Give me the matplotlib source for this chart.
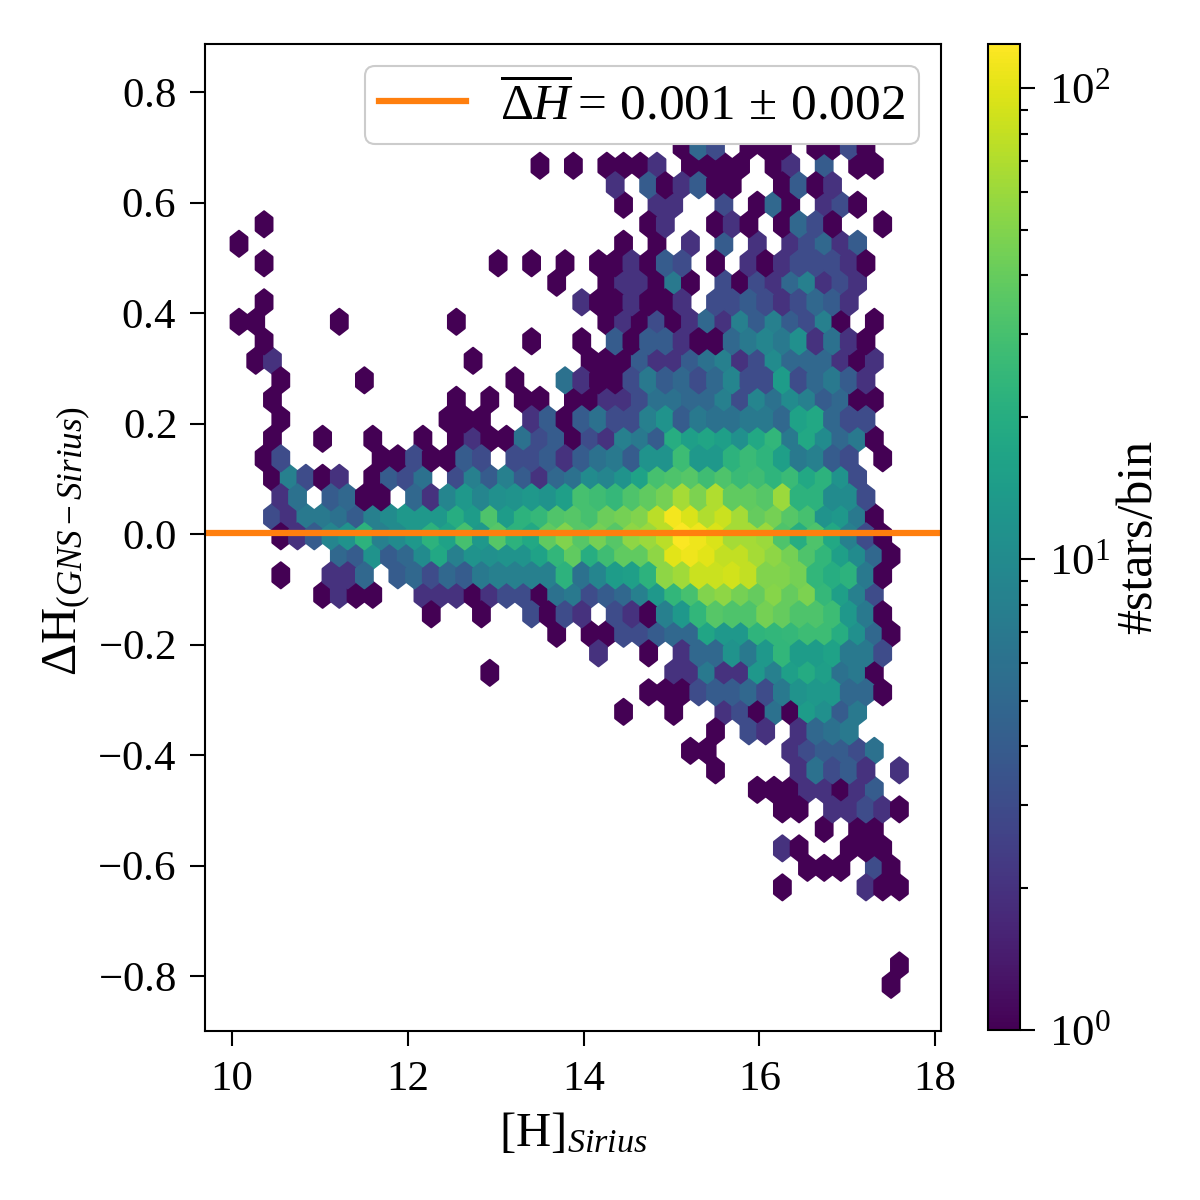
#!/usr/bin/env python
'''
Hexbin of the GNS - Sirius H band difference against Sirius magnitude
'''

import numpy as np
import matplotlib
matplotlib.use('Agg')
import matplotlib.pyplot as plt
from matplotlib.colors import LogNorm

plt.rcParams['font.family'] = ['Liberation Serif', 'DejaVu Serif']
plt.rcParams['mathtext.fontset'] = 'custom'
plt.rcParams['mathtext.rm'] = 'Liberation Serif'
plt.rcParams['mathtext.it'] = 'Liberation Serif:italic'
plt.rcParams['mathtext.bf'] = 'Liberation Serif:bold'
plt.rcParams['axes.linewidth'] = 0.5
plt.rcParams['patch.linewidth'] = 0.5
for tick in ['xtick.major.width', 'ytick.major.width', 'xtick.minor.width', 'ytick.minor.width']:
    plt.rcParams[tick] = 0.5

# extent of the binned data and number of bins
mag_min, mag_max = 10.08, 17.69
dh_min, dh_max = -0.816, 0.8078
gridsize = 40

mean_dh = 0.001

# stars per bin, row by row from the lowest dH up.
# row_first is the first occupied column of the row, 0 means an empty bin
row_first = [39, 39, 0, 0, 0, 32, 34, 32, 35, 32, 31, 28, 27, 28, 23, 24, 15, 21, 19, 11, 5, 2,
             6, 2, 2, 2, 2, 1, 2, 2, 2, 2, 1, 1, 0, 1, 19, 1, 0, 1, 23, 22, 18, 26]
row_counts = [
    [1],
    [1],
    [],
    [],
    [],
    [1, 0, 0, 0, 0, 2, 1, 1],
    [1, 1, 1, 0, 3, 1],
    [2, 1, 0, 0, 1, 1, 1],
    [1, 0, 1, 1],
    [1, 1, 0, 2, 2, 3, 2, 1],
    [1, 1, 1, 2, 2, 1, 2, 4],
    [1, 0, 0, 0, 0, 2, 6, 3, 4, 2, 0, 2],
    [1, 1, 0, 0, 0, 0, 2, 3, 4, 4, 3, 6],
    [1, 0, 3, 2, 0, 2, 5, 6, 7],
    [1, 0, 0, 1, 0, 0, 2, 3, 1, 6, 1, 14, 11, 4, 7],
    [1, 1, 1, 3, 4, 4, 5, 3, 7, 12, 13, 13, 5, 5, 1],
    [1, 0, 0, 0, 0, 0, 0, 0, 0, 0, 0, 2, 2, 7, 2, 2, 13, 8, 15, 19, 15, 6, 7, 1],
    [2, 0, 0, 1, 0, 2, 5, 5, 12, 7, 13, 24, 14, 14, 16, 7, 7, 3],
    [1, 0, 1, 1, 3, 3, 4, 5, 5, 17, 13, 13, 23, 24, 25, 27, 27, 20, 11, 5, 1],
    [1, 0, 0, 1, 0, 0, 3, 1, 3, 2, 0, 3, 2, 1, 8, 13, 24, 35, 32, 32, 45, 40, 32, 32, 27, 13, 7, 1],
    [1, 2, 1, 1, 0, 0, 2, 2, 2, 1, 2, 3, 3, 1, 6, 7, 3, 4, 5, 8, 13, 24, 30, 50, 55, 45, 40, 52,
     40, 48, 25, 15, 8, 3],
    [1, 0, 0, 2, 2, 5, 0, 4, 5, 3, 5, 4, 7, 8, 8, 8, 8, 22, 6, 9, 14, 15, 22, 55, 62, 85, 85, 90,
     80, 50, 50, 45, 24, 20, 22, 7, 1],
    [5, 4, 12, 4, 5, 10, 18, 8, 12, 11, 12, 12, 16, 24, 38, 20, 28, 38, 38, 55, 100, 110, 100, 80,
     80, 65, 55, 45, 32, 24, 15, 10, 5, 1],
    [1, 2, 4, 9, 12, 22, 8, 10, 13, 22, 16, 30, 13, 35, 22, 18, 38, 50, 35, 45, 35, 55, 60, 75, 120,
     110, 95, 65, 65, 60, 32, 20, 32, 18, 8, 3, 1],
    [3, 2, 7, 7, 6, 4, 8, 10, 13, 13, 13, 20, 14, 32, 14, 22, 25, 33, 35, 30, 42, 45, 50, 75, 115,
     95, 70, 85, 65, 40, 45, 35, 30, 12, 13, 7, 1],
    [2, 6, 0, 4, 5, 1, 1, 0, 5, 2, 9, 13, 9, 11, 12, 13, 12, 15, 30, 28, 25, 32, 38, 45, 65, 48, 70,
     38, 38, 35, 60, 22, 22, 10, 10, 3],
    [1, 8, 3, 1, 2, 0, 1, 4, 3, 6, 0, 3, 8, 4, 8, 4, 2, 5, 6, 10, 9, 12, 16, 30, 32, 35, 28, 32, 26,
     28, 23, 26, 18, 22, 12, 3],
    [1, 3, 0, 0, 0, 0, 0, 1, 1, 3, 1, 1, 4, 3, 0, 3, 3, 4, 2, 4, 6, 7, 4, 12, 12, 27, 13, 13, 22, 26,
     23, 15, 7, 8, 4, 3, 0, 1],
    [1, 0, 0, 1, 0, 0, 1, 0, 0, 1, 0, 1, 2, 1, 1, 6, 3, 4, 1, 3, 2, 8, 7, 4, 20, 15, 17, 15, 11, 18,
     24, 7, 18, 10, 5, 7, 1],
    [1, 0, 0, 0, 0, 0, 0, 0, 0, 0, 1, 1, 1, 0, 0, 2, 4, 1, 4, 6, 3, 3, 8, 12, 4, 7, 6, 6, 7, 7, 5, 16,
     18, 5, 3, 3],
    [1, 0, 0, 0, 0, 0, 0, 0, 0, 0, 0, 1, 0, 1, 0, 1, 1, 0, 1, 1, 2, 2, 3, 6, 6, 5, 5, 8, 3, 9, 6, 10,
     8, 4, 5, 1, 1],
    [1, 0, 0, 0, 0, 1, 0, 0, 0, 0, 0, 0, 0, 0, 1, 0, 0, 6, 2, 1, 1, 3, 7, 4, 5, 3, 5, 9, 3, 3, 14, 3,
     5, 7, 4, 2],
    [1, 2, 0, 0, 0, 0, 0, 0, 0, 0, 0, 0, 0, 1, 0, 0, 0, 0, 0, 0, 1, 1, 1, 4, 2, 2, 4, 6, 8, 2, 3, 10,
     5, 5, 5, 2, 1, 2],
    [1, 0, 0, 0, 0, 0, 0, 0, 0, 0, 0, 0, 0, 0, 0, 0, 1, 0, 0, 1, 0, 4, 1, 4, 4, 2, 1, 1, 5, 7, 9, 7,
     11, 2, 6, 2, 1],
    [1, 1, 0, 0, 0, 0, 1, 0, 0, 0, 0, 0, 0, 1, 0, 0, 0, 0, 0, 0, 0, 0, 1, 2, 1, 3, 1, 2, 5, 2, 8, 4,
     8, 4, 3, 8, 1, 0, 1],
    [1, 0, 0, 0, 0, 0, 0, 0, 0, 0, 0, 0, 0, 0, 0, 0, 0, 0, 0, 2, 1, 1, 2, 1, 1, 2, 0, 3, 3, 4, 3, 2,
     3, 5, 4, 2],
    [1, 0, 0, 1, 2, 2, 1, 7, 1, 0, 3, 1, 3, 2, 5, 8, 2, 3, 2],
    [1, 0, 0, 0, 0, 0, 0, 0, 0, 0, 0, 0, 0, 0, 1, 0, 1, 0, 1, 0, 1, 1, 2, 1, 4, 3, 0, 1, 0, 2, 1, 2,
     3, 3, 3, 2, 1],
    [1, 0, 0, 0, 0, 0, 0, 0, 0, 0, 0, 0, 0, 0, 0, 0, 0, 0, 0, 0, 0, 0, 0, 1, 0, 1, 0, 2, 0, 4, 0, 2,
     0, 2, 3, 5, 2, 4],
    [1, 0, 0, 0, 0, 0, 0, 0, 0, 0, 0, 0, 0, 0, 0, 0, 0, 0, 0, 0, 0, 0, 0, 1, 2, 0, 0, 1, 2, 1, 0, 1,
     5, 3, 1, 0, 0, 1],
    [1, 0, 2, 2, 0, 0, 3, 0, 1, 5, 1, 0, 2, 3, 1],
    [2, 0, 4, 1, 2, 4, 1, 1, 0, 0, 1, 4, 1, 2],
    [1, 0, 1, 0, 1, 1, 1, 2, 0, 1, 1, 1, 1, 0, 1, 2, 0, 4, 0, 1, 1],
    [1, 5, 3, 0, 1, 1, 1, 0, 1, 1, 3, 1],
]

mag_ticks = [10, 12, 14, 16, 18]
dh_ticks = [-0.8, -0.6, -0.4, -0.2, 0.0, 0.2, 0.4, 0.6, 0.8]


def bins_to_points():
    '''
        Turn the row lists into one point per bin for hexbin
    '''
    sx = (mag_max - mag_min) / gridsize
    sy = (dh_max - dh_min) / int(gridsize / np.sqrt(3))
    xs, ys, ns = [], [], []
    for row, counts in enumerate(row_counts):
        for i, n in enumerate(counts):
            if n > 0:
                xs.append(mag_min + (row_first[row] + i + 0.5 * (row % 2)) * sx)
                ys.append(dh_min + row * sy / 2.)
                ns.append(n)
    return np.array(xs), np.array(ys), np.array(ns)


def main():
    x, y, n = bins_to_points()

    fig = plt.figure(figsize=(4, 4), dpi=300)
    ax = fig.add_axes([205 / 1200., 1 - 1031 / 1200., 736 / 1200., 987 / 1200.])
    cax = fig.add_axes([988 / 1200., 1 - 1030 / 1200., 32 / 1200., 986 / 1200.])

    hb = ax.hexbin(x, y, C=n, gridsize=gridsize, extent=(mag_min, mag_max, dh_min, dh_max),
                   reduce_C_function=np.sum, cmap='viridis', norm=LogNorm(vmin=1, vmax=124),
                   linewidths=0.5)
    ax.axhline(mean_dh, color='C1', lw=1.5,
               label=r'$\overline{\Delta H} =\, 0.001\, \pm \,0.002$')

    ax.set_xlim(9.693, 18.068)
    ax.set_ylim(-0.8995, 0.887)
    ax.set_xticks(mag_ticks)
    ax.set_yticks(dh_ticks)
    ax.set_yticklabels(['$-0.8$', '$-0.6$', '$-0.4$', '$-0.2$', '$0.0$', '$0.2$', '$0.4$', '$0.6$', '$0.8$'])
    ax.tick_params(labelsize=10.3)
    ax.set_xlabel(r'[H]$_{Sirius}$', fontsize=11.7, labelpad=3)
    ax.set_ylabel(r'$\Delta$H$_{(GNS-Sirius)}$', fontsize=12)
    ax.yaxis.set_label_coords(-0.152, 0.497)

    leg = ax.legend(loc='upper right', fontsize=12.3, framealpha=1, borderpad=0.28,
                    borderaxespad=0.43, handlelength=1.7, handletextpad=0.65)
    leg.set_zorder(5)

    cb = fig.colorbar(hb, cax=cax)
    cb.ax.tick_params(labelsize=10.8)
    cb.set_label('#stars/bin', fontsize=12, labelpad=1)

    fig.savefig('out.png', dpi=300)
    plt.close(fig)


if __name__ == '__main__':
    main()
